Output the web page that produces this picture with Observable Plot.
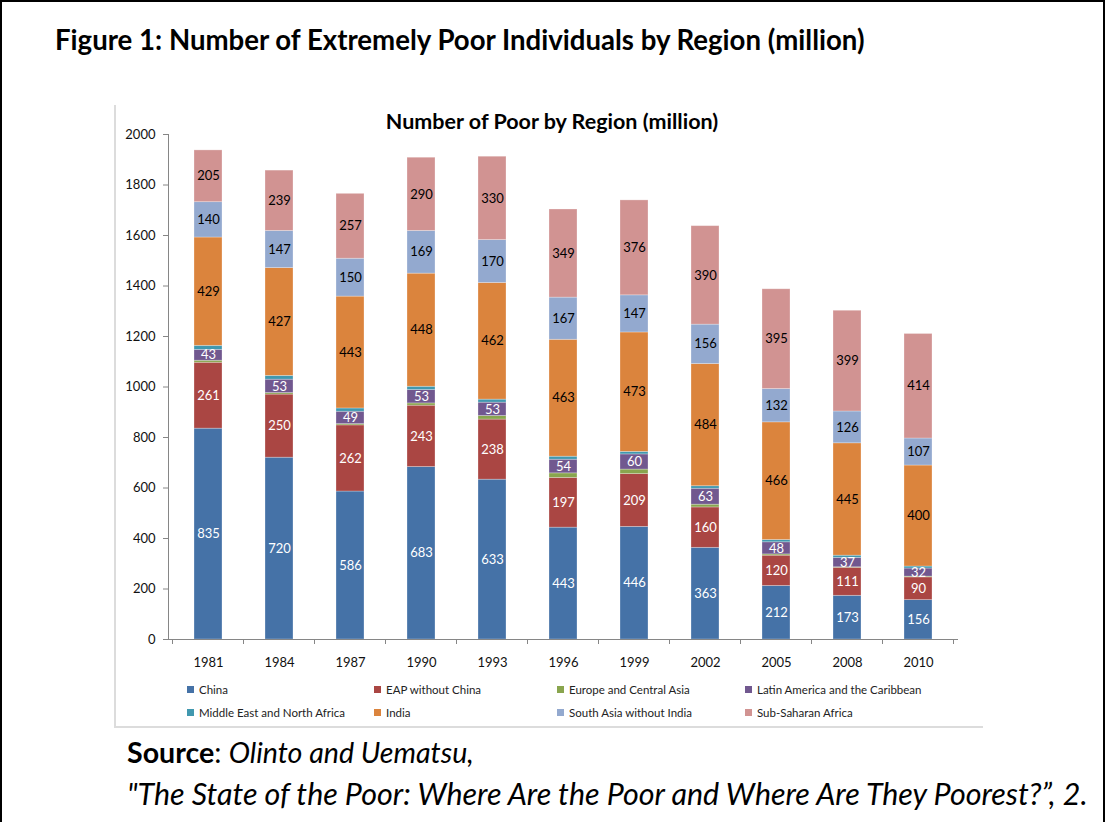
<!DOCTYPE html>
<html><head><meta charset="utf-8">
<script src="https://cdn.jsdelivr.net/npm/d3@7"></script>
<script src="https://cdn.jsdelivr.net/npm/@observablehq/plot@0.6"></script>
<style>
body{margin:0;background:#fff;font-family:Lato,"Open Sans",sans-serif;color:#000;}
#page{position:relative;width:1105px;height:822px;overflow:hidden;background:#fff;}
#frame{position:absolute;left:0px;top:0px;width:1105px;height:860px;border:2px solid #000;box-sizing:border-box;}
#title{position:absolute;left:55px;top:26px;font-weight:bold;font-size:27.6px;white-space:nowrap;line-height:1;}
#box{position:absolute;left:114px;top:105px;width:869px;height:623px;border-left:2px solid #dcdcdc;border-bottom:2px solid #dcdcdc;box-sizing:border-box;}
#ctitle{position:absolute;left:552px;top:111px;transform:translateX(-50%);font-weight:bold;font-size:21.5px;white-space:nowrap;line-height:1;}
#chart{position:absolute;left:0;top:100px;}
.lg{position:absolute;font-size:11.5px;white-space:nowrap;line-height:1;color:#222;}
.lg span.sw{display:inline-block;width:7px;height:7px;margin-right:5px;vertical-align:1px;}
#src1,#src2{position:absolute;left:127px;white-space:nowrap;line-height:1;}
#src1{top:738px;font-size:28.6px;}
#src2{top:778px;font-size:30.4px;font-style:italic;}
</style></head>
<body>
<div id="page">
  <div id="frame"></div>
  <div id="title">Figure 1: Number of Extremely Poor Individuals by Region (million)</div>
  <div id="box"></div>
  <div id="chart"></div>
  <div id="ctitle">Number of Poor by Region (million)</div>
  <div id="legend"></div>
  <div id="src1"><b>Source</b>: <i>Olinto and Uematsu,</i></div>
  <div id="src2">"The State of the Poor: Where Are the Poor and Where Are They Poorest?”, 2.</div>
</div>
<script>
// ---- data ----
const years = ["1981","1984","1987","1990","1993","1996","1999","2002","2005","2008","2010"];
const seriesNames = ["China","EAP without China","Europe and Central Asia","Latin America and the Caribbean","Middle East and North Africa","India","South Asia without India","Sub-Saharan Africa"];
const china     = [835,720,586,683,633,443,446,363,212,173,156];
const eap       = [261,250,262,243,238,197,209,160,120,111,90];
const eca       = [8,6,5,9,14,18,18,11,5,2,3];
const lac       = [43,53,49,53,53,54,60,63,48,37,32];
const mena      = [16,15,13,13,12,12,10,10,9,9,8];
const india     = [429,427,443,448,462,463,473,484,466,445,400];
const southAsia = [140,147,150,169,170,167,147,156,132,126,107];
const ssa       = [205,239,257,290,330,349,376,390,395,399,414];
const yTicks = [0,200,400,600,800,1000,1200,1400,1600,1800,2000];
const labelledWhite = ["China","EAP without China","Latin America and the Caribbean"];
const labelledBlack = ["India","South Asia without India","Sub-Saharan Africa"];

// ---- styles ----
const colors = ["#4572A7","#AA4643","#89A54E","#71588F","#4198AF","#DB843D","#93A9CF","#D19392"];

const seriesValues = [china,eap,eca,lac,mena,india,southAsia,ssa];
const rows = [];
years.forEach((yr,i) => {
  seriesNames.forEach((s,j) => rows.push({year: yr, series: s, value: seriesValues[j][i]}));
});

const stackOpts = {x: "year", y: "value", order: null};

const plot = Plot.plot({
  width: 1105,
  height: 580,
  marginTop: 34,
  marginBottom: 41,
  marginLeft: 168,
  marginRight: 147,
  style: {fontFamily: "Lato, 'Open Sans', sans-serif", background: "transparent", overflow: "visible"},
  x: {domain: years, paddingInner: 0.6, paddingOuter: 0.3, label: null},
  y: {domain: [0, 2000], label: null},
  color: {domain: seriesNames, range: colors},
  marks: [
    Plot.barY(rows, Plot.stackY({...stackOpts, fill: "series", stroke: "#ffffff", strokeOpacity: 0.35, strokeWidth: 0.8})),
    Plot.text(rows, Plot.stackY({...stackOpts, text: d => labelledWhite.includes(d.series) ? String(d.value) : null, fill: "white", fontSize: 13})),
    Plot.text(rows, Plot.stackY({...stackOpts, text: d => labelledBlack.includes(d.series) ? String(d.value) : null, fill: "black", fontSize: 13})),
    Plot.ruleY([0], {stroke: "#868686", strokeWidth: 1}),
    Plot.axisY({ticks: yTicks, tickSize: 5, tickPadding: 8, stroke: "#868686", fill: "#111", fontSize: 13, tickFormat: d => String(d)}),
    Plot.axisX({tickSize: 0, tickPadding: 18, fill: "#111", fontSize: 13}),
    Plot.frame({anchor: "left", stroke: "#868686"})
  ]
});
document.getElementById("chart").appendChild(plot);

// boundary tick marks on the category axis, placed through the plot's x scale
const xs = plot.scale("x");
const ysc = plot.scale("y");
const svg = d3.select(plot.tagName.toLowerCase() === "svg" ? plot : plot.querySelector("svg"));
const base = ysc.apply(0);
const bounds = years.map(yr => xs.apply(yr) - (xs.step - xs.bandwidth) / 2);
bounds.push(xs.apply(years[years.length-1]) + xs.bandwidth + (xs.step - xs.bandwidth) / 2);
svg.append("g").selectAll("line").data(bounds).join("line")
  .attr("x1", d => d).attr("x2", d => d)
  .attr("y1", base).attr("y2", base + 5)
  .attr("stroke", "#868686");

// legend
const legend = document.getElementById("legend");
const colLeft = [187, 374, 557, 745];
const rowTop = [684, 707];
seriesNames.forEach((s,i) => {
  const el = document.createElement("div");
  el.className = "lg";
  el.style.left = colLeft[i % 4] + "px";
  el.style.top = rowTop[Math.floor(i / 4)] + "px";
  el.innerHTML = `<span class="sw" style="background:${colors[i]}"></span>${s}`;
  legend.appendChild(el);
});
</script>
</body></html>
